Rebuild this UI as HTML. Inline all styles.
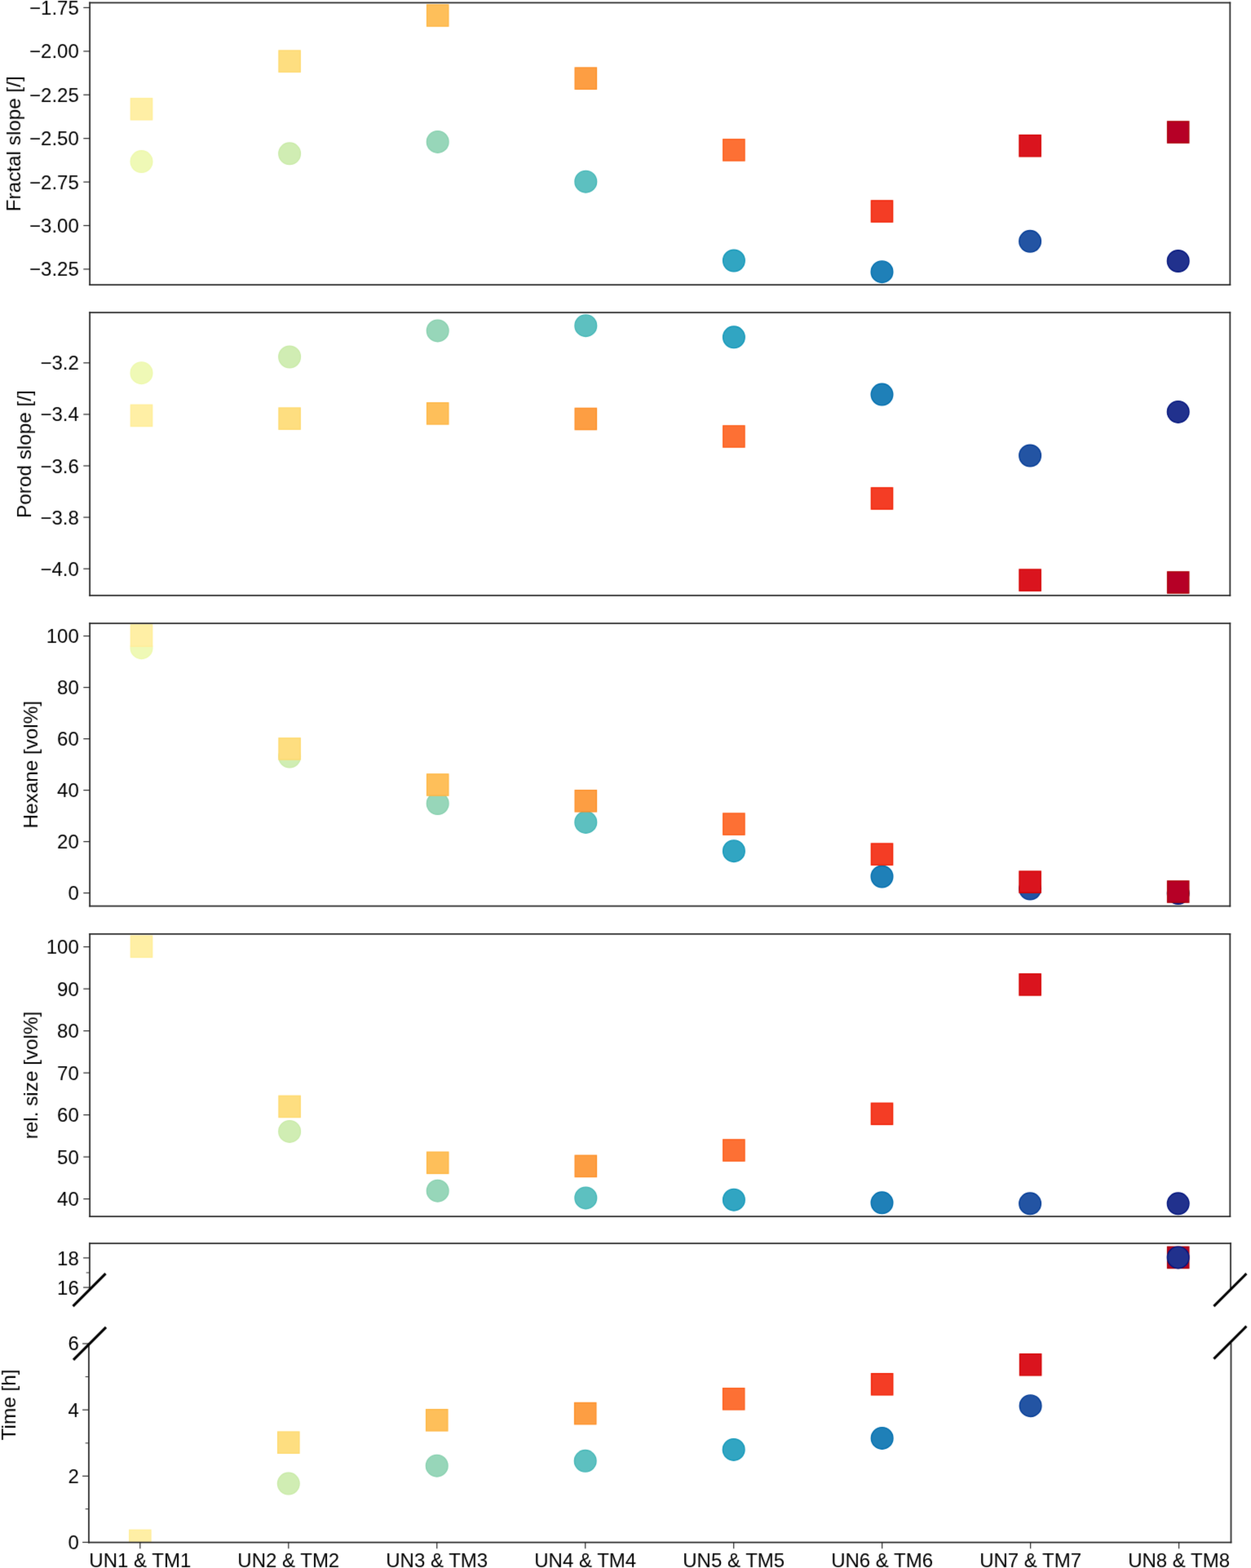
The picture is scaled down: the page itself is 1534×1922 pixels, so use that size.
<!DOCTYPE html>
<html><head><meta charset="utf-8"><title>figure</title>
<style>
html,body{margin:0;padding:0;background:#fff;}
svg{display:block;}
.sp{stroke:#262626;stroke-width:1.75;stroke-linecap:square;}
.tk{stroke:#262626;stroke-width:1.2;}
.tk2{stroke:#262626;stroke-width:1.0;}
.brk{stroke:#000;stroke-width:3.1;}
text{font-family:"Liberation Sans",Arial,sans-serif;font-size:24px;fill:#000000;}
.yt{text-anchor:end;}
.xt{text-anchor:middle;}
.yl{text-anchor:middle;font-size:24.3px;}
</style></head>
<body>
<svg width="1534" height="1922" viewBox="0 0 1534 1922">
<defs><filter id="bl" x="0" y="0" width="1534" height="1922" filterUnits="userSpaceOnUse" color-interpolation-filters="sRGB"><feConvolveMatrix order="3" kernelMatrix="0.01134 0.08382 0.01134 0.08382 0.61935 0.08382 0.01134 0.08382 0.01134" edgeMode="duplicate" preserveAlpha="true"/></filter></defs>
<rect width="1534" height="1922" fill="#fff"/>
<g filter="url(#bl)">
<rect width="1534" height="1922" fill="#fff"/>
<clipPath id="c1"><rect x="110.1" y="3.3" width="1398.2" height="345.8"/></clipPath>
<g clip-path="url(#c1)">
<rect x="160.40" y="120.60" width="26.20" height="26.20" fill="#ffefa5" stroke="#ffed98" stroke-width="1.4"/>
<rect x="342.00" y="62.00" width="26.20" height="26.20" fill="#fede80" stroke="#fed96e" stroke-width="1.4"/>
<rect x="523.60" y="5.90" width="26.20" height="26.20" fill="#febf5a" stroke="#feb643" stroke-width="1.4"/>
<rect x="705.20" y="83.00" width="26.20" height="26.20" fill="#fd9e43" stroke="#fd9029" stroke-width="1.4"/>
<rect x="886.80" y="170.80" width="26.20" height="26.20" fill="#fd7034" stroke="#fd5c18" stroke-width="1.4"/>
<rect x="1068.40" y="245.90" width="26.20" height="26.20" fill="#f43d25" stroke="#f22206" stroke-width="1.4"/>
<rect x="1250.00" y="165.60" width="26.20" height="26.20" fill="#da141e" stroke="#d50000" stroke-width="1.4"/>
<rect x="1431.60" y="148.90" width="26.20" height="26.20" fill="#b60026" stroke="#ac0008" stroke-width="1.4"/>
<circle cx="173.50" cy="198.10" r="13.30" fill="#eff9b6" stroke="#edf8ac" stroke-width="1.4"/>
<circle cx="355.10" cy="188.30" r="13.30" fill="#d0edb3" stroke="#c9eaa8" stroke-width="1.4"/>
<circle cx="536.70" cy="173.90" r="13.30" fill="#97d6b9" stroke="#88d0af" stroke-width="1.4"/>
<circle cx="718.30" cy="222.70" r="13.30" fill="#5dc0c0" stroke="#46b7b7" stroke-width="1.4"/>
<circle cx="899.90" cy="319.50" r="13.30" fill="#31a5c2" stroke="#1498b9" stroke-width="1.4"/>
<circle cx="1081.50" cy="333.20" r="13.30" fill="#1f80b8" stroke="#006eae" stroke-width="1.4"/>
<circle cx="1263.10" cy="295.80" r="13.30" fill="#2354a3" stroke="#043c96" stroke-width="1.4"/>
<circle cx="1444.70" cy="320.00" r="13.30" fill="#21318d" stroke="#02147d" stroke-width="1.4"/>
</g>
<line x1="110.1" y1="3.3" x2="1508.3" y2="3.3" class="sp"/>
<line x1="110.1" y1="349.1" x2="1508.3" y2="349.1" class="sp"/>
<line x1="110.1" y1="3.3" x2="110.1" y2="349.1" class="sp"/>
<line x1="1508.3" y1="3.3" x2="1508.3" y2="349.1" class="sp"/>
<line x1="102.30" y1="9.40" x2="110.10" y2="9.40" class="tk"/>
<text x="96.80" y="17.90" class="yt">−1.75</text>
<line x1="102.30" y1="62.82" x2="110.10" y2="62.82" class="tk"/>
<text x="96.80" y="71.32" class="yt">−2.00</text>
<line x1="102.30" y1="116.24" x2="110.10" y2="116.24" class="tk"/>
<text x="96.80" y="124.74" class="yt">−2.25</text>
<line x1="102.30" y1="169.66" x2="110.10" y2="169.66" class="tk"/>
<text x="96.80" y="178.16" class="yt">−2.50</text>
<line x1="102.30" y1="223.08" x2="110.10" y2="223.08" class="tk"/>
<text x="96.80" y="231.58" class="yt">−2.75</text>
<line x1="102.30" y1="276.50" x2="110.10" y2="276.50" class="tk"/>
<text x="96.80" y="285.00" class="yt">−3.00</text>
<line x1="102.30" y1="329.92" x2="110.10" y2="329.92" class="tk"/>
<text x="96.80" y="338.42" class="yt">−3.25</text>
<text transform="translate(25.00,176.20) rotate(-90)" class="yl">Fractal slope [/]</text>
<clipPath id="c2"><rect x="110.1" y="383.2" width="1398.2" height="346.7"/></clipPath>
<g clip-path="url(#c2)">
<rect x="160.40" y="496.30" width="26.20" height="26.20" fill="#ffefa5" stroke="#ffed98" stroke-width="1.4"/>
<rect x="342.00" y="500.00" width="26.20" height="26.20" fill="#fede80" stroke="#fed96e" stroke-width="1.4"/>
<rect x="523.60" y="493.80" width="26.20" height="26.20" fill="#febf5a" stroke="#feb643" stroke-width="1.4"/>
<rect x="705.20" y="500.40" width="26.20" height="26.20" fill="#fd9e43" stroke="#fd9029" stroke-width="1.4"/>
<rect x="886.80" y="521.90" width="26.20" height="26.20" fill="#fd7034" stroke="#fd5c18" stroke-width="1.4"/>
<rect x="1068.40" y="597.90" width="26.20" height="26.20" fill="#f43d25" stroke="#f22206" stroke-width="1.4"/>
<rect x="1250.00" y="698.00" width="26.20" height="26.20" fill="#da141e" stroke="#d50000" stroke-width="1.4"/>
<rect x="1431.60" y="700.90" width="26.20" height="26.20" fill="#b60026" stroke="#ac0008" stroke-width="1.4"/>
<circle cx="173.50" cy="457.20" r="13.30" fill="#eff9b6" stroke="#edf8ac" stroke-width="1.4"/>
<circle cx="355.10" cy="437.50" r="13.30" fill="#d0edb3" stroke="#c9eaa8" stroke-width="1.4"/>
<circle cx="536.70" cy="405.40" r="13.30" fill="#97d6b9" stroke="#88d0af" stroke-width="1.4"/>
<circle cx="718.30" cy="399.20" r="13.30" fill="#5dc0c0" stroke="#46b7b7" stroke-width="1.4"/>
<circle cx="899.90" cy="413.30" r="13.30" fill="#31a5c2" stroke="#1498b9" stroke-width="1.4"/>
<circle cx="1081.50" cy="483.60" r="13.30" fill="#1f80b8" stroke="#006eae" stroke-width="1.4"/>
<circle cx="1263.10" cy="558.50" r="13.30" fill="#2354a3" stroke="#043c96" stroke-width="1.4"/>
<circle cx="1444.70" cy="504.90" r="13.30" fill="#21318d" stroke="#02147d" stroke-width="1.4"/>
</g>
<line x1="110.1" y1="383.2" x2="1508.3" y2="383.2" class="sp"/>
<line x1="110.1" y1="729.9" x2="1508.3" y2="729.9" class="sp"/>
<line x1="110.1" y1="383.2" x2="110.1" y2="729.9" class="sp"/>
<line x1="1508.3" y1="383.2" x2="1508.3" y2="729.9" class="sp"/>
<line x1="102.30" y1="444.80" x2="110.10" y2="444.80" class="tk"/>
<text x="96.80" y="453.30" class="yt">−3.2</text>
<line x1="102.30" y1="507.90" x2="110.10" y2="507.90" class="tk"/>
<text x="96.80" y="516.40" class="yt">−3.4</text>
<line x1="102.30" y1="571.00" x2="110.10" y2="571.00" class="tk"/>
<text x="96.80" y="579.50" class="yt">−3.6</text>
<line x1="102.30" y1="634.10" x2="110.10" y2="634.10" class="tk"/>
<text x="96.80" y="642.60" class="yt">−3.8</text>
<line x1="102.30" y1="697.20" x2="110.10" y2="697.20" class="tk"/>
<text x="96.80" y="705.70" class="yt">−4.0</text>
<text transform="translate(37.80,556.55) rotate(-90)" class="yl">Porod slope [/]</text>
<clipPath id="c3"><rect x="110.1" y="764.0" width="1398.2" height="346.5"/></clipPath>
<g clip-path="url(#c3)">
<circle cx="173.50" cy="794.20" r="13.30" fill="#eff9b6" stroke="#edf8ac" stroke-width="1.4"/>
<circle cx="355.10" cy="927.50" r="13.30" fill="#d0edb3" stroke="#c9eaa8" stroke-width="1.4"/>
<circle cx="536.70" cy="985.00" r="13.30" fill="#97d6b9" stroke="#88d0af" stroke-width="1.4"/>
<circle cx="718.30" cy="1007.90" r="13.30" fill="#5dc0c0" stroke="#46b7b7" stroke-width="1.4"/>
<circle cx="899.90" cy="1043.20" r="13.30" fill="#31a5c2" stroke="#1498b9" stroke-width="1.4"/>
<circle cx="1081.50" cy="1074.50" r="13.30" fill="#1f80b8" stroke="#006eae" stroke-width="1.4"/>
<circle cx="1263.10" cy="1089.50" r="13.30" fill="#2354a3" stroke="#043c96" stroke-width="1.4"/>
<circle cx="1444.70" cy="1095.00" r="13.30" fill="#21318d" stroke="#02147d" stroke-width="1.4"/>
<rect x="160.40" y="766.00" width="26.20" height="26.20" fill="#ffefa5" stroke="#ffed98" stroke-width="1.4"/>
<rect x="342.00" y="904.80" width="26.20" height="26.20" fill="#fede80" stroke="#fed96e" stroke-width="1.4"/>
<rect x="523.60" y="948.90" width="26.20" height="26.20" fill="#febf5a" stroke="#feb643" stroke-width="1.4"/>
<rect x="705.20" y="968.70" width="26.20" height="26.20" fill="#fd9e43" stroke="#fd9029" stroke-width="1.4"/>
<rect x="886.80" y="997.00" width="26.20" height="26.20" fill="#fd7034" stroke="#fd5c18" stroke-width="1.4"/>
<rect x="1068.40" y="1034.00" width="26.20" height="26.20" fill="#f43d25" stroke="#f22206" stroke-width="1.4"/>
<rect x="1250.00" y="1068.00" width="26.20" height="26.20" fill="#da141e" stroke="#d50000" stroke-width="1.4"/>
<rect x="1431.60" y="1079.90" width="26.20" height="26.20" fill="#b60026" stroke="#ac0008" stroke-width="1.4"/>
</g>
<line x1="110.1" y1="764.0" x2="1508.3" y2="764.0" class="sp"/>
<line x1="110.1" y1="1110.5" x2="1508.3" y2="1110.5" class="sp"/>
<line x1="110.1" y1="764.0" x2="110.1" y2="1110.5" class="sp"/>
<line x1="1508.3" y1="764.0" x2="1508.3" y2="1110.5" class="sp"/>
<line x1="102.30" y1="1094.60" x2="110.10" y2="1094.60" class="tk"/>
<text x="96.80" y="1103.10" class="yt">0</text>
<line x1="102.30" y1="1031.60" x2="110.10" y2="1031.60" class="tk"/>
<text x="96.80" y="1040.10" class="yt">20</text>
<line x1="102.30" y1="968.60" x2="110.10" y2="968.60" class="tk"/>
<text x="96.80" y="977.10" class="yt">40</text>
<line x1="102.30" y1="905.60" x2="110.10" y2="905.60" class="tk"/>
<text x="96.80" y="914.10" class="yt">60</text>
<line x1="102.30" y1="842.60" x2="110.10" y2="842.60" class="tk"/>
<text x="96.80" y="851.10" class="yt">80</text>
<line x1="102.30" y1="779.60" x2="110.10" y2="779.60" class="tk"/>
<text x="96.80" y="788.10" class="yt">100</text>
<text transform="translate(45.50,937.25) rotate(-90)" class="yl">Hexane [vol%]</text>
<clipPath id="c4"><rect x="110.1" y="1144.8" width="1398.2" height="346.4000000000001"/></clipPath>
<g clip-path="url(#c4)">
<rect x="160.40" y="1147.20" width="26.20" height="26.20" fill="#ffefa5" stroke="#ffed98" stroke-width="1.4"/>
<rect x="342.00" y="1343.30" width="26.20" height="26.20" fill="#fede80" stroke="#fed96e" stroke-width="1.4"/>
<rect x="523.60" y="1412.20" width="26.20" height="26.20" fill="#febf5a" stroke="#feb643" stroke-width="1.4"/>
<rect x="705.20" y="1416.30" width="26.20" height="26.20" fill="#fd9e43" stroke="#fd9029" stroke-width="1.4"/>
<rect x="886.80" y="1396.90" width="26.20" height="26.20" fill="#fd7034" stroke="#fd5c18" stroke-width="1.4"/>
<rect x="1068.40" y="1352.20" width="26.20" height="26.20" fill="#f43d25" stroke="#f22206" stroke-width="1.4"/>
<rect x="1250.00" y="1193.80" width="26.20" height="26.20" fill="#da141e" stroke="#d50000" stroke-width="1.4"/>
<circle cx="355.10" cy="1386.90" r="13.30" fill="#d0edb3" stroke="#c9eaa8" stroke-width="1.4"/>
<circle cx="536.70" cy="1459.70" r="13.30" fill="#97d6b9" stroke="#88d0af" stroke-width="1.4"/>
<circle cx="718.30" cy="1468.40" r="13.30" fill="#5dc0c0" stroke="#46b7b7" stroke-width="1.4"/>
<circle cx="899.90" cy="1470.70" r="13.30" fill="#31a5c2" stroke="#1498b9" stroke-width="1.4"/>
<circle cx="1081.50" cy="1474.30" r="13.30" fill="#1f80b8" stroke="#006eae" stroke-width="1.4"/>
<circle cx="1263.10" cy="1475.30" r="13.30" fill="#2354a3" stroke="#043c96" stroke-width="1.4"/>
<circle cx="1444.70" cy="1475.30" r="13.30" fill="#21318d" stroke="#02147d" stroke-width="1.4"/>
</g>
<line x1="110.1" y1="1144.8" x2="1508.3" y2="1144.8" class="sp"/>
<line x1="110.1" y1="1491.2" x2="1508.3" y2="1491.2" class="sp"/>
<line x1="110.1" y1="1144.8" x2="110.1" y2="1491.2" class="sp"/>
<line x1="1508.3" y1="1144.8" x2="1508.3" y2="1491.2" class="sp"/>
<line x1="102.30" y1="1469.60" x2="110.10" y2="1469.60" class="tk"/>
<text x="96.80" y="1478.10" class="yt">40</text>
<line x1="102.30" y1="1418.10" x2="110.10" y2="1418.10" class="tk"/>
<text x="96.80" y="1426.60" class="yt">50</text>
<line x1="102.30" y1="1366.60" x2="110.10" y2="1366.60" class="tk"/>
<text x="96.80" y="1375.10" class="yt">60</text>
<line x1="102.30" y1="1315.10" x2="110.10" y2="1315.10" class="tk"/>
<text x="96.80" y="1323.60" class="yt">70</text>
<line x1="102.30" y1="1263.60" x2="110.10" y2="1263.60" class="tk"/>
<text x="96.80" y="1272.10" class="yt">80</text>
<line x1="102.30" y1="1212.10" x2="110.10" y2="1212.10" class="tk"/>
<text x="96.80" y="1220.60" class="yt">90</text>
<line x1="102.30" y1="1160.60" x2="110.10" y2="1160.60" class="tk"/>
<text x="96.80" y="1169.10" class="yt">100</text>
<text transform="translate(45.50,1318.00) rotate(-90)" class="yl">rel. size [vol%]</text>
<clipPath id="c5"><rect x="109.9" y="1524.0" width="1399.1" height="56.0"/></clipPath>
<g clip-path="url(#c5)">
<rect x="1431.60" y="1528.30" width="26.20" height="26.20" fill="#b60026" stroke="#ac0008" stroke-width="1.4"/>
<circle cx="1444.70" cy="1541.40" r="13.30" fill="#21318d" stroke="#02147d" stroke-width="1.4"/>
</g>
<line x1="109.9" y1="1524.0" x2="1509.0" y2="1524.0" class="sp"/>
<line x1="109.9" y1="1524.0" x2="109.9" y2="1580.0" class="sp"/>
<line x1="1509.0" y1="1524.0" x2="1509.0" y2="1580.0" class="sp"/>
<line x1="102.10" y1="1541.90" x2="109.90" y2="1541.90" class="tk"/>
<text x="96.80" y="1551.00" class="yt">18</text>
<line x1="102.10" y1="1578.10" x2="109.90" y2="1578.10" class="tk"/>
<text x="96.80" y="1587.20" class="yt">16</text>
<line x1="105.70" y1="1560.00" x2="109.90" y2="1560.00" class="tk2"/>
<clipPath id="c6"><rect x="108.9" y="1647.0" width="1400.6" height="243.5"/></clipPath>
<g clip-path="url(#c6)">
<rect x="158.70" y="1875.40" width="26.20" height="26.20" fill="#ffefa5" stroke="#ffed98" stroke-width="1.4"/>
<rect x="340.67" y="1755.10" width="26.20" height="26.20" fill="#fede80" stroke="#fed96e" stroke-width="1.4"/>
<rect x="522.64" y="1727.70" width="26.20" height="26.20" fill="#febf5a" stroke="#feb643" stroke-width="1.4"/>
<rect x="704.61" y="1719.50" width="26.20" height="26.20" fill="#fd9e43" stroke="#fd9029" stroke-width="1.4"/>
<rect x="886.58" y="1701.70" width="26.20" height="26.20" fill="#fd7034" stroke="#fd5c18" stroke-width="1.4"/>
<rect x="1068.55" y="1683.70" width="26.20" height="26.20" fill="#f43d25" stroke="#f22206" stroke-width="1.4"/>
<rect x="1250.52" y="1659.70" width="26.20" height="26.20" fill="#da141e" stroke="#d50000" stroke-width="1.4"/>
<circle cx="353.77" cy="1818.60" r="13.30" fill="#d0edb3" stroke="#c9eaa8" stroke-width="1.4"/>
<circle cx="535.74" cy="1796.70" r="13.30" fill="#97d6b9" stroke="#88d0af" stroke-width="1.4"/>
<circle cx="717.71" cy="1790.80" r="13.30" fill="#5dc0c0" stroke="#46b7b7" stroke-width="1.4"/>
<circle cx="899.68" cy="1776.90" r="13.30" fill="#31a5c2" stroke="#1498b9" stroke-width="1.4"/>
<circle cx="1081.65" cy="1762.90" r="13.30" fill="#1f80b8" stroke="#006eae" stroke-width="1.4"/>
<circle cx="1263.62" cy="1723.20" r="13.30" fill="#2354a3" stroke="#043c96" stroke-width="1.4"/>
</g>
<line x1="108.9" y1="1890.5" x2="1509.5" y2="1890.5" class="sp"/>
<line x1="108.9" y1="1647.0" x2="108.9" y2="1890.5" class="sp"/>
<line x1="1509.5" y1="1647.0" x2="1509.5" y2="1890.5" class="sp"/>
<line x1="101.10" y1="1890.50" x2="108.90" y2="1890.50" class="tk"/>
<text x="96.80" y="1899.00" class="yt">0</text>
<line x1="101.10" y1="1809.33" x2="108.90" y2="1809.33" class="tk"/>
<text x="96.80" y="1817.83" class="yt">2</text>
<line x1="101.10" y1="1728.16" x2="108.90" y2="1728.16" class="tk"/>
<text x="96.80" y="1736.66" class="yt">4</text>
<line x1="101.10" y1="1646.99" x2="108.90" y2="1646.99" class="tk"/>
<text x="96.80" y="1655.49" class="yt">6</text>
<line x1="104.70" y1="1849.70" x2="108.90" y2="1849.70" class="tk2"/>
<line x1="104.70" y1="1768.90" x2="108.90" y2="1768.90" class="tk2"/>
<line x1="104.70" y1="1687.60" x2="108.90" y2="1687.60" class="tk2"/>
<text transform="translate(18.90,1722.00) rotate(-90)" class="yl">Time [h]</text>
<line x1="171.80" y1="1890.5" x2="171.80" y2="1898.3" class="tk"/>
<text x="171.80" y="1920.7" class="xt">UN1 &amp; TM1</text>
<line x1="353.77" y1="1890.5" x2="353.77" y2="1898.3" class="tk"/>
<text x="353.77" y="1920.7" class="xt">UN2 &amp; TM2</text>
<line x1="535.74" y1="1890.5" x2="535.74" y2="1898.3" class="tk"/>
<text x="535.74" y="1920.7" class="xt">UN3 &amp; TM3</text>
<line x1="717.71" y1="1890.5" x2="717.71" y2="1898.3" class="tk"/>
<text x="717.71" y="1920.7" class="xt">UN4 &amp; TM4</text>
<line x1="899.68" y1="1890.5" x2="899.68" y2="1898.3" class="tk"/>
<text x="899.68" y="1920.7" class="xt">UN5 &amp; TM5</text>
<line x1="1081.65" y1="1890.5" x2="1081.65" y2="1898.3" class="tk"/>
<text x="1081.65" y="1920.7" class="xt">UN6 &amp; TM6</text>
<line x1="1263.62" y1="1890.5" x2="1263.62" y2="1898.3" class="tk"/>
<text x="1263.62" y="1920.7" class="xt">UN7 &amp; TM7</text>
<line x1="1445.59" y1="1890.5" x2="1445.59" y2="1898.3" class="tk"/>
<text x="1445.59" y="1920.7" class="xt">UN8 &amp; TM8</text>
<line x1="89.50" y1="1601.20" x2="129.50" y2="1561.20" class="brk"/>
<line x1="1488.40" y1="1601.20" x2="1528.40" y2="1561.20" class="brk"/>
<line x1="90.00" y1="1666.80" x2="130.00" y2="1626.80" class="brk"/>
<line x1="1488.40" y1="1665.70" x2="1528.40" y2="1625.70" class="brk"/>
</g>
</svg>
</body></html>
